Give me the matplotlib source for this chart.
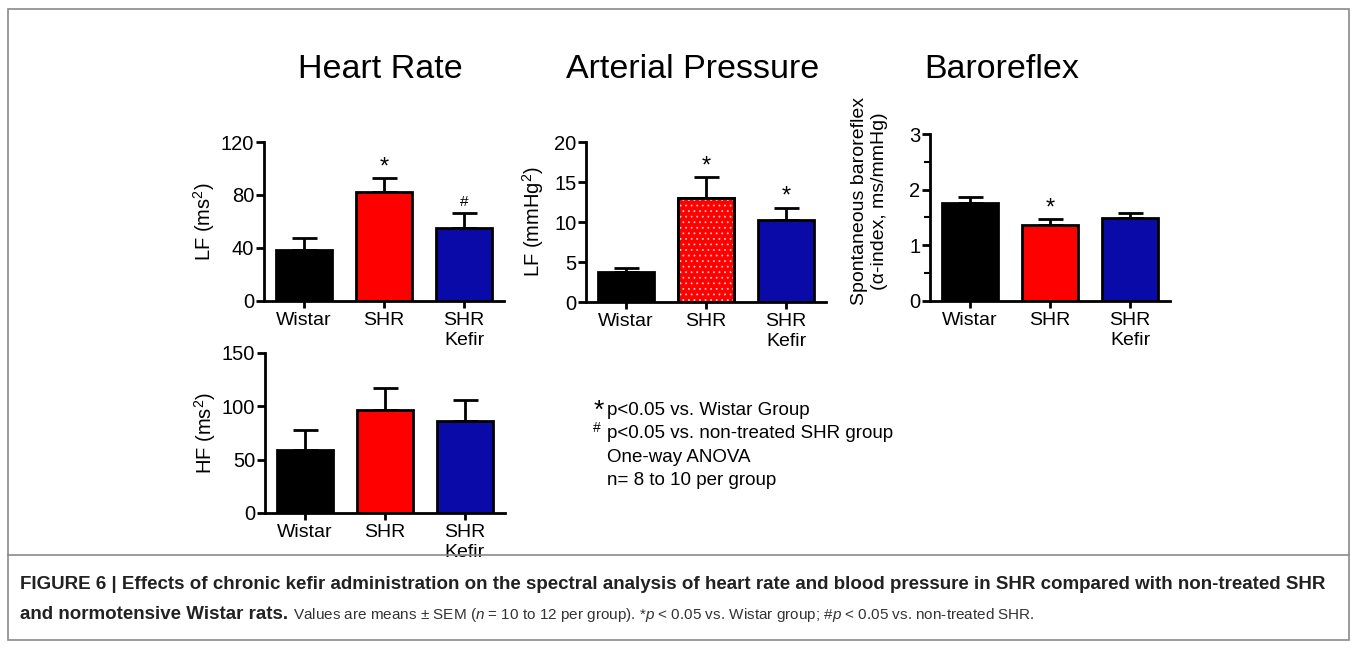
import numpy as np
import matplotlib
matplotlib.use('Agg')
import matplotlib.pyplot as plt
from matplotlib.patches import Rectangle
from matplotlib.lines import Line2D

plt.rcParams['font.family'] = ['Liberation Sans', 'DejaVu Sans']
plt.rcParams['mathtext.fontset'] = 'custom'
plt.rcParams['mathtext.rm'] = 'Liberation Sans'
plt.rcParams['mathtext.it'] = 'Liberation Sans:italic'
plt.rcParams['hatch.linewidth'] = 0.6

# data
groups = ['Wistar', 'SHR', 'SHR\nKefir']
hr_lf = [38.5, 82.0, 55.3]
hr_lf_sem = [9.3, 10.6, 10.9]
hr_lf_marks = ['', '*', '#']
hr_hf = [58.9, 96.6, 86.4]
hr_hf_sem = [18.8, 20.6, 19.2]
hr_hf_marks = ['', '', '']
ap_lf = [3.8, 13.0, 10.2]
ap_lf_sem = [0.5, 2.6, 1.6]
ap_lf_marks = ['', '*', '*']
baro = [1.76, 1.36, 1.49]
baro_sem = [0.10, 0.11, 0.09]
baro_marks = ['', '*', '']

colors = ['black', '#ff0000', '#0a0aa8']

W, H = 1357, 648
fig = plt.figure(figsize=(W / 100, H / 100), dpi=100)


def box(left, top, right, bottom):
    # pixel box (from top-left) -> figure coords
    return [left / W, 1 - bottom / H, (right - left) / W, (bottom - top) / H]


def panel(rect, vals, sem, marks, ylim, yticks, ylabel, labxy, labsize=14.5, minor=None, dotted=None):
    ax = fig.add_axes(rect)
    x = np.arange(len(vals))
    ax.bar(x, vals, width=0.69, color=colors, edgecolor='black', linewidth=2, zorder=2)
    if dotted is not None:
        # fine white dot pattern on one bar
        ax.bar(x[dotted], vals[dotted], width=0.69, color='none', edgecolor='#ffc0c0',
               hatch='...', linewidth=0, zorder=3)
        ax.bar(x[dotted], vals[dotted], width=0.69, fill=False, edgecolor='black',
               linewidth=2, zorder=4)
    ax.errorbar(x, vals, yerr=[np.zeros(len(sem)), sem], fmt='none', ecolor='black',
                elinewidth=2, capsize=9, capthick=2, zorder=1)
    for i in range(len(vals)):
        if marks[i] == '*':
            ax.annotate('*', (x[i], vals[i] + sem[i]), xytext=(0, 0),
                        textcoords='offset pixels', ha='center', va='bottom', fontsize=17)
        elif marks[i]:
            ax.annotate(marks[i], (x[i], vals[i] + sem[i]), xytext=(0, 4),
                        textcoords='offset pixels', ha='center', va='bottom', fontsize=11)
    ax.set_xlim(-0.5, 2.5)
    ax.set_ylim(*ylim)
    ax.set_yticks(yticks)
    if minor is not None:
        ax.set_yticks(minor, minor=True)
    ax.set_xticks(x)
    ax.set_xticklabels(groups, fontsize=14, linespacing=1.2)
    ax.tick_params(axis='y', labelsize=14.5, length=6, width=2, pad=1)
    ax.tick_params(axis='y', which='minor', length=4, width=1.5)
    ax.tick_params(axis='x', length=5, width=2, pad=3)
    ax.set_ylabel(ylabel, fontsize=labsize)
    ax.yaxis.set_label_coords(*labxy)
    for s in ['top', 'right']:
        ax.spines[s].set_visible(False)
    for s in ['left', 'bottom']:
        ax.spines[s].set_linewidth(2)
    return ax


panel(box(264, 142, 504, 301), hr_lf, hr_lf_sem, hr_lf_marks, (0, 120),
      [0, 40, 80, 120], 'LF (ms$^2$)', (-0.195, 0.5))
panel(box(586, 142, 826, 302), ap_lf, ap_lf_sem, ap_lf_marks, (0, 20),
      [0, 5, 10, 15, 20], 'LF (mmHg$^2$)', (-0.165, 0.5), dotted=1)
panel(box(930, 134, 1170, 301), baro, baro_sem, baro_marks, (0, 3),
      [0, 1, 2, 3], 'Spontaneous baroreflex\n(\u03b1-index, ms/mmHg)', (-0.175, 0.6),
      labsize=14, minor=[0.5, 1.5, 2.5])
panel(box(265, 353, 505, 513), hr_hf, hr_hf_sem, hr_hf_marks, (0, 150),
      [0, 50, 100, 150], 'HF (ms$^2$)', (-0.195, 0.5))

# titles
for txt, xc in [('Heart Rate', 380), ('Arterial Pressure', 693), ('Baroreflex', 1002)]:
    fig.text(xc / W, 1 - 70 / H, txt, ha='center', va='center', fontsize=24.5)

# statistics note
fig.text(594 / W, 1 - 418 / H, '*', fontsize=19, ha='left', va='baseline')
fig.text(607 / W, 1 - 415 / H, 'p<0.05 vs. Wistar Group', fontsize=13.5, va='baseline')
fig.text(593 / W, 1 - 432 / H, '#', fontsize=10, ha='left', va='baseline')
fig.text(607 / W, 1 - 438 / H, 'p<0.05 vs. non-treated SHR group', fontsize=13.5, va='baseline')
fig.text(607 / W, 1 - 462 / H, 'One-way ANOVA', fontsize=13.5, va='baseline')
fig.text(607 / W, 1 - 485 / H, 'n= 8 to 10 per group', fontsize=13.5, va='baseline')

# frame and caption
fig.patches.append(Rectangle((8 / W, 1 - 640 / H), 1341 / W, 631 / H, fill=False,
                             edgecolor='#8a8a8a', linewidth=1.2, transform=fig.transFigure))
fig.lines.append(Line2D([8 / W, 1349 / W], [1 - 555 / H, 1 - 555 / H],
                        color='#8a8a8a', linewidth=1.2, transform=fig.transFigure))

fig.text(20 / W, 1 - 589 / H,
         'FIGURE 6 | Effects of chronic kefir administration on the spectral analysis of heart rate '
         'and blood pressure in SHR compared with non-treated SHR',
         fontsize=13.5, fontweight='bold', va='baseline', color='#222222')
t1 = fig.text(20 / W, 1 - 619 / H, 'and normotensive Wistar rats.', fontsize=13.5,
              fontweight='bold', va='baseline', color='#222222')
fig.canvas.draw()
bb = t1.get_window_extent()
fig.text((bb.x1 + 5) / W, 1 - 619 / H,
         'Values are means $\\pm$ SEM ($n$ = 10 to 12 per group). *$p$ < 0.05 vs. Wistar group; '
         '#$p$ < 0.05 vs. non-treated SHR.',
         fontsize=11, va='baseline', color='#333333')

fig.savefig('out.png', dpi=100)
